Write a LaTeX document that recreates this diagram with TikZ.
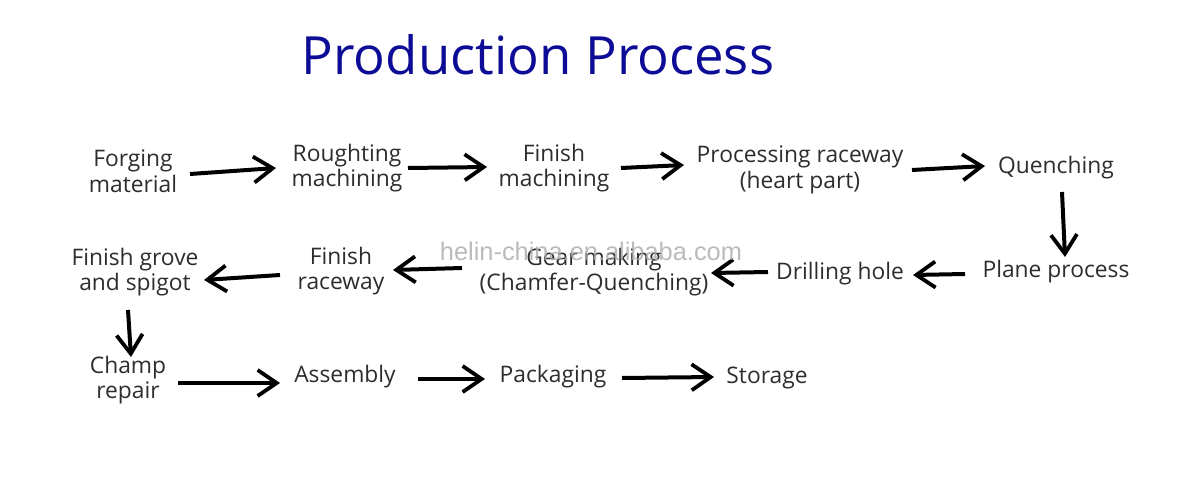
\documentclass[tikz,border=0pt]{standalone}
\usepackage{fontspec}
\setmainfont{Open Sans}
\newfontfamily\wmfont{Liberation Sans}
\usetikzlibrary{arrows.meta,calc}
\definecolor{titleblue}{RGB}{12,12,150}
\definecolor{txt}{RGB}{45,45,45}
\definecolor{wm}{RGB}{170,170,170}
\tikzset{
  stepnode/.style={align=center,text=txt,inner sep=0pt,
    font=\fontsize{22.8}{25.5}\selectfont},
  arr/.style={line width=4pt,-{Straight Barb[length=19pt,width=26pt,line width=3.8pt]}}
}
\begin{document}
\begin{tikzpicture}[x=1pt,y=-1pt]
\useasboundingbox (0,0) rectangle (1180,500);
\fill[white] (0,0) rectangle (1180,500);
\node[text=titleblue,font=\fontsize{52.7}{60}\selectfont,anchor=center] (title) at (538,55) {Production Process};

\node[stepnode] (fm) at (133,171) {Forging\\material};
\node[stepnode] (rm) at (347,168) {Roughting\\machining};
\node[stepnode] (fi) at (554,168) {Finish\\machining};
\node[stepnode] (pr) at (800,170) {Processing raceway\\(heart part)};
\node[stepnode] (qu) at (1056,168) {Quenching};
\node[stepnode] (pp) at (1056,272) {Plane process};
\node[stepnode] (dh) at (840,274) {Drilling hole};
\node[stepnode] (gm) at (594,272) {Gear making\\(Chamfer-Quenching)};
\node[stepnode] (fr) at (341,271) {Finish\\raceway};
\node[stepnode] (fg) at (135,272) {Finish grove\\and spigot};
\node[stepnode] (cr) at (128,380) {Champ\\repair};
\node[stepnode] (as) at (345,377) {Assembly};
\node[stepnode] (pk) at (553,377) {Packaging};
\node[stepnode] (st) at (767,378) {Storage};

\draw[arr] ([shift={(57,3)}]fm.center) -- ([shift={(-71,0)}]rm.center);
\draw[arr] ([shift={(61,0)}]rm.center) -- ([shift={(-67,-1)}]fi.center);
\draw[arr] ([shift={(67,0)}]fi.center) -- ([shift={(-116,-5)}]pr.center);
\draw[arr] ([shift={(112,0)}]pr.center) -- ([shift={(-71,-2)}]qu.center);
\draw[arr] ([shift={(6,24)}]qu.center) -- ([shift={(9,-15)}]pp.center);
\draw[arr] ([shift={(-91,2)}]pp.center) -- ([shift={(73,1)}]dh.center);
\draw[arr] ([shift={(-72,-2)}]dh.center) -- ([shift={(117,1)}]gm.center);
\draw[arr] ([shift={(-132,-4)}]gm.center) -- ([shift={(52,-1)}]fr.center);
\draw[arr] ([shift={(-61,4)}]fr.center) -- ([shift={(69,8)}]fg.center);
\draw[arr] ([shift={(-7,38)}]fg.center) -- ([shift={(3,-23)}]cr.center);
\draw[arr] ([shift={(50,3)}]cr.center) -- ([shift={(-65,6)}]as.center);
\draw[arr] ([shift={(73,2)}]as.center) -- ([shift={(-68,2)}]pk.center);
\draw[arr] ([shift={(69,1)}]pk.center) -- ([shift={(-53,-1)}]st.center);

\node[text=wm,opacity=0.8,font=\wmfont\fontsize{25.4}{30}\selectfont,anchor=base] (wmark) at (591,260) {helin-china.en.alibaba.com};
\end{tikzpicture}
\end{document}
